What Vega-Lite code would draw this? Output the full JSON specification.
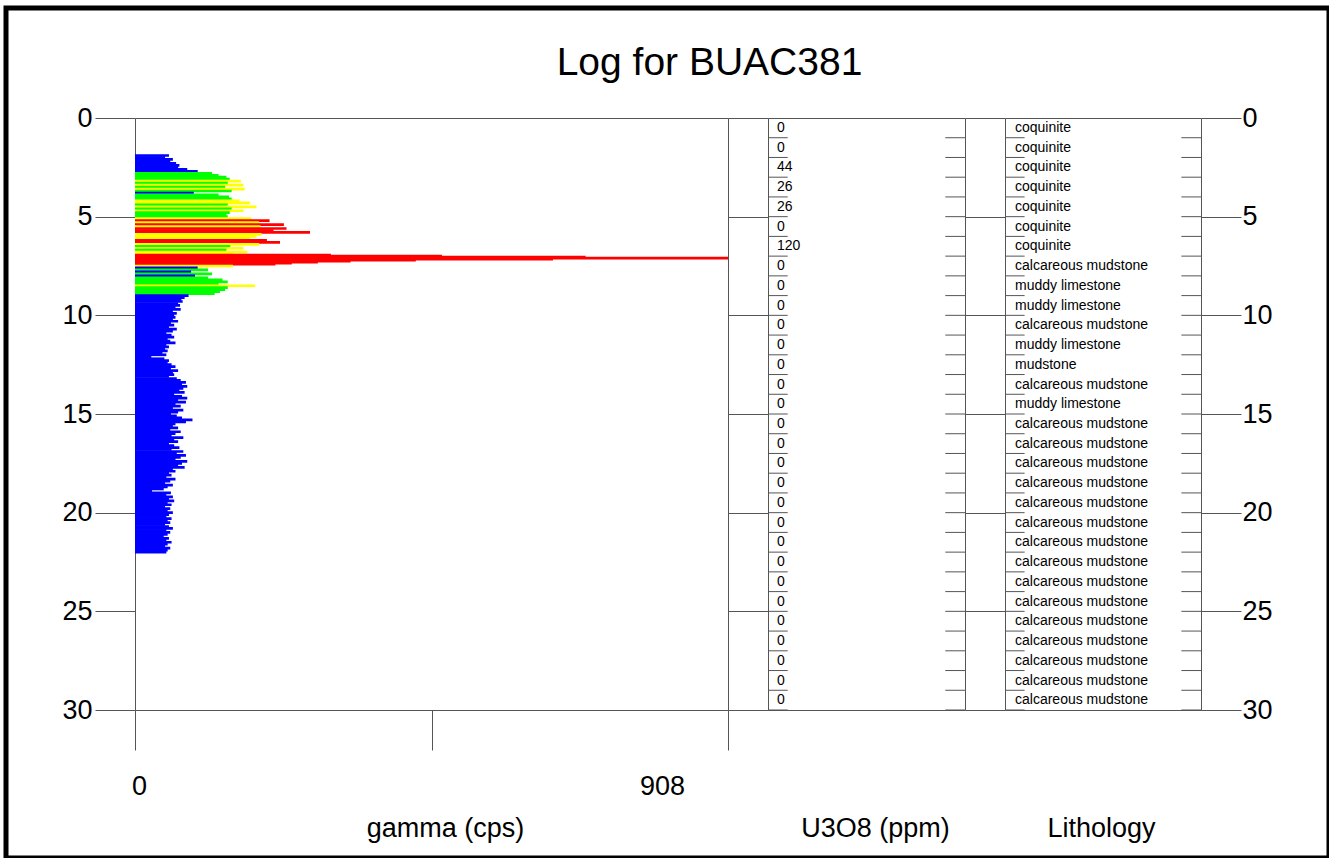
{
  "$schema": "https://vega.github.io/schema/vega-lite/v6.json",
  "width": 1323,
  "height": 850,
  "autosize": "none",
  "padding": {"left": 6, "top": 8, "right": 0, "bottom": 0},
  "background": "white",
  "view": {"stroke": "black", "strokeWidth": 5},
  "title": {"text": "Log for BUAC381", "fontSize": 39, "fontWeight": "normal", "font": "Liberation Sans", "color": "black", "anchor": "middle", "frame": "group", "offset": -106, "baseline": "alphabetic", "dx": 42},
  "config": {
    "font": "Liberation Sans",
    "axis": {"grid": false, "domainColor": "#555555", "tickColor": "#555555", "domainWidth": 1, "tickWidth": 1, "labelColor": "black", "titleColor": "black", "labelFont": "Liberation Sans", "titleFont": "Liberation Sans", "labelFlush": false, "labelOverlap": false, "labelBound": false, "titleFontWeight": "normal"}
  },
  "datasets": {
    "gamma": [
      {"d":1.9,"g":52},{"d":2.0,"g":46},{"d":2.1,"g":58},{"d":2.2,"g":54},{"d":2.3,"g":63},{"d":2.4,"g":68},{"d":2.5,"g":66},{"d":2.6,"g":80},{"d":2.7,"g":96},
      {"d":2.8,"g":118},{"d":2.9,"g":128},{"d":3.0,"g":140},{"d":3.1,"g":145},{"d":3.2,"g":162},{"d":3.3,"g":142},{"d":3.4,"g":166},{"d":3.5,"g":138},{"d":3.6,"g":168},{"d":3.7,"g":148},
      {"d":3.8,"g":90},{"d":3.9,"g":128},{"d":4.0,"g":144},{"d":4.1,"g":148},{"d":4.2,"g":160},{"d":4.3,"g":176},{"d":4.4,"g":142},{"d":4.5,"g":186},{"d":4.6,"g":148},{"d":4.7,"g":166},{"d":4.8,"g":145},{"d":4.9,"g":140},{"d":5.0,"g":142},
      {"d":5.1,"g":178},{"d":5.2,"g":206},{"d":5.3,"g":190},{"d":5.4,"g":228},{"d":5.5,"g":192},{"d":5.6,"g":232},{"d":5.7,"g":212},{"d":5.8,"g":268},{"d":5.9,"g":194},{"d":6.0,"g":186},{"d":6.1,"g":176},{"d":6.2,"g":202},{"d":6.3,"g":222},{"d":6.4,"g":190},
      {"d":6.5,"g":146},{"d":6.6,"g":166},{"d":6.7,"g":140},{"d":6.8,"g":172},{"d":6.9,"g":150},
      {"d":6.95,"g":300},{"d":7.0,"g":470},{"d":7.05,"g":690},{"d":7.1,"g":908},{"d":7.15,"g":640},{"d":7.2,"g":430},{"d":7.25,"g":330},{"d":7.3,"g":280},{"d":7.35,"g":240},{"d":7.4,"g":215},
      {"d":7.5,"g":150},{"d":7.6,"g":96},{"d":7.7,"g":112},{"d":7.8,"g":86},{"d":7.9,"g":118},{"d":8.0,"g":92},{"d":8.1,"g":112},
      {"d":8.2,"g":134},{"d":8.3,"g":142},{"d":8.4,"g":128},{"d":8.5,"g":184},{"d":8.6,"g":142},{"d":8.7,"g":138},{"d":8.8,"g":130},{"d":8.9,"g":122},
      {"d":9.0,"g":82},{"d":9.1,"g":76},{"d":9.2,"g":71},{"d":9.3,"g":73},{"d":9.4,"g":66},{"d":9.5,"g":69},{"d":9.6,"g":62},{"d":9.7,"g":70},{"d":9.8,"g":58},{"d":9.9,"g":64},
      {"d":10.0,"g":60},{"d":10.1,"g":62},{"d":10.2,"g":58},{"d":10.3,"g":66},{"d":10.4,"g":55},{"d":10.5,"g":60},{"d":10.6,"g":52},{"d":10.7,"g":64},{"d":10.8,"g":58},{"d":10.9,"g":48},
      {"d":11.0,"g":56},{"d":11.1,"g":60},{"d":11.2,"g":50},{"d":11.3,"g":54},{"d":11.4,"g":62},{"d":11.5,"g":48},{"d":11.6,"g":52},{"d":11.7,"g":46},{"d":11.8,"g":50},{"d":11.9,"g":42},
      {"d":12.0,"g":48},{"d":12.1,"g":25},{"d":12.2,"g":45},{"d":12.3,"g":52},{"d":12.4,"g":50},{"d":12.5,"g":56},{"d":12.6,"g":62},{"d":12.7,"g":55},{"d":12.8,"g":66},{"d":12.9,"g":58},
      {"d":13.0,"g":60},{"d":13.1,"g":52},{"d":13.2,"g":64},{"d":13.3,"g":70},{"d":13.4,"g":78},{"d":13.5,"g":72},{"d":13.6,"g":80},{"d":13.7,"g":74},{"d":13.8,"g":68},{"d":13.9,"g":76},
      {"d":14.0,"g":60},{"d":14.1,"g":72},{"d":14.2,"g":80},{"d":14.3,"g":66},{"d":14.4,"g":78},{"d":14.5,"g":62},{"d":14.6,"g":70},{"d":14.7,"g":58},{"d":14.8,"g":74},{"d":14.9,"g":66},
      {"d":15.0,"g":55},{"d":15.1,"g":64},{"d":15.2,"g":72},{"d":15.3,"g":88},{"d":15.4,"g":78},{"d":15.5,"g":62},{"d":15.6,"g":58},{"d":15.7,"g":66},{"d":15.8,"g":54},{"d":15.9,"g":70},
      {"d":16.0,"g":62},{"d":16.1,"g":56},{"d":16.2,"g":74},{"d":16.3,"g":60},{"d":16.4,"g":66},{"d":16.5,"g":52},{"d":16.6,"g":60},{"d":16.7,"g":68},{"d":16.8,"g":56},{"d":16.9,"g":74},
      {"d":17.0,"g":64},{"d":17.1,"g":78},{"d":17.2,"g":70},{"d":17.3,"g":62},{"d":17.4,"g":80},{"d":17.5,"g":72},{"d":17.6,"g":66},{"d":17.7,"g":76},{"d":17.8,"g":58},{"d":17.9,"g":62},
      {"d":18.0,"g":52},{"d":18.1,"g":56},{"d":18.2,"g":48},{"d":18.3,"g":62},{"d":18.4,"g":54},{"d":18.5,"g":46},{"d":18.6,"g":58},{"d":18.7,"g":50},{"d":18.8,"g":44},{"d":18.9,"g":26},
      {"d":19.0,"g":55},{"d":19.1,"g":48},{"d":19.2,"g":58},{"d":19.3,"g":52},{"d":19.4,"g":60},{"d":19.5,"g":50},{"d":19.6,"g":56},{"d":19.7,"g":46},{"d":19.8,"g":54},{"d":19.9,"g":50},
      {"d":20.0,"g":58},{"d":20.1,"g":52},{"d":20.2,"g":48},{"d":20.3,"g":56},{"d":20.4,"g":50},{"d":20.5,"g":54},{"d":20.6,"g":46},{"d":20.7,"g":52},{"d":20.8,"g":58},{"d":20.9,"g":48},
      {"d":21.0,"g":54},{"d":21.1,"g":50},{"d":21.2,"g":44},{"d":21.3,"g":52},{"d":21.4,"g":48},{"d":21.5,"g":56},{"d":21.6,"g":50},{"d":21.7,"g":46},{"d":21.8,"g":54},{"d":21.9,"g":50},{"d":22.0,"g":48}
    ],
    "samples": [
      {"from":0,"to":1,"u3o8":0,"lith":"coquinite"},
      {"from":1,"to":2,"u3o8":0,"lith":"coquinite"},
      {"from":2,"to":3,"u3o8":44,"lith":"coquinite"},
      {"from":3,"to":4,"u3o8":26,"lith":"coquinite"},
      {"from":4,"to":5,"u3o8":26,"lith":"coquinite"},
      {"from":5,"to":6,"u3o8":0,"lith":"coquinite"},
      {"from":6,"to":7,"u3o8":120,"lith":"coquinite"},
      {"from":7,"to":8,"u3o8":0,"lith":"calcareous mudstone"},
      {"from":8,"to":9,"u3o8":0,"lith":"muddy limestone"},
      {"from":9,"to":10,"u3o8":0,"lith":"muddy limestone"},
      {"from":10,"to":11,"u3o8":0,"lith":"calcareous mudstone"},
      {"from":11,"to":12,"u3o8":0,"lith":"muddy limestone"},
      {"from":12,"to":13,"u3o8":0,"lith":"mudstone"},
      {"from":13,"to":14,"u3o8":0,"lith":"calcareous mudstone"},
      {"from":14,"to":15,"u3o8":0,"lith":"muddy limestone"},
      {"from":15,"to":16,"u3o8":0,"lith":"calcareous mudstone"},
      {"from":16,"to":17,"u3o8":0,"lith":"calcareous mudstone"},
      {"from":17,"to":18,"u3o8":0,"lith":"calcareous mudstone"},
      {"from":18,"to":19,"u3o8":0,"lith":"calcareous mudstone"},
      {"from":19,"to":20,"u3o8":0,"lith":"calcareous mudstone"},
      {"from":20,"to":21,"u3o8":0,"lith":"calcareous mudstone"},
      {"from":21,"to":22,"u3o8":0,"lith":"calcareous mudstone"},
      {"from":22,"to":23,"u3o8":0,"lith":"calcareous mudstone"},
      {"from":23,"to":24,"u3o8":0,"lith":"calcareous mudstone"},
      {"from":24,"to":25,"u3o8":0,"lith":"calcareous mudstone"},
      {"from":25,"to":26,"u3o8":0,"lith":"calcareous mudstone"},
      {"from":26,"to":27,"u3o8":0,"lith":"calcareous mudstone"},
      {"from":27,"to":28,"u3o8":0,"lith":"calcareous mudstone"},
      {"from":28,"to":29,"u3o8":0,"lith":"calcareous mudstone"},
      {"from":29,"to":30,"u3o8":0,"lith":"calcareous mudstone"}
    ]
  },
  "layer": [
    {
      "data": {"name": "gamma"},
      "mark": {"type": "rule", "strokeWidth": 2.7},
      "encoding": {
        "y": {"field": "d", "type": "quantitative",
          "scale": {"domain": [0, 30], "range": [110, 702], "nice": false, "zero": false},
          "axis": {"orient": "left", "offset": -129, "values": [0,5,10,15,20,25,30], "tickSize": 40, "labelFontSize": 27, "labelPadding": 3, "title": null, "domain": true}},
        "x": {"field": "g", "type": "quantitative",
          "scale": {"domain": [0, 908], "range": [129, 722], "nice": false, "zero": false},
          "axis": {"orient": "bottom", "offset": -148, "values": [0, 454, 908], "tickSize": 40, "labelExpr": "datum.value == 454 ? '' : datum.label", "labelFontSize": 27, "labelPadding": 23, "labelOffset": {"condition": {"test": "datum.value == 908", "value": -66}, "value": 4}, "title": "gamma (cps)", "titleFontSize": 27, "titleX": 439, "titleY": 126, "titleBaseline": "alphabetic", "titleAlign": "center", "domain": true}},
        "x2": {"datum": 0},
        "color": {"field": "g", "type": "quantitative",
          "scale": {"type": "threshold", "domain": [100, 150, 200], "range": ["#0000ff", "#00ff00", "#ffff00", "#ff0000"]},
          "legend": null}
      }
    },
    {
      "data": {"name": "samples"},
      "mark": {"type": "text", "align": "left", "baseline": "middle", "dx": 9, "dy": 10, "fontSize": 14, "font": "Liberation Sans", "color": "black"},
      "encoding": {
        "y": {"field": "from", "type": "quantitative",
          "axis": {"orient": "left", "offset": -762, "values": [0,5,10,15,20,25,30], "tickSize": 40, "labels": false, "title": null, "domain": true}},
        "x": {"datum": 0, "type": "quantitative",
          "scale": {"domain": [0, 1], "range": [762, 959], "nice": false, "zero": false},
          "axis": {"orient": "bottom", "offset": -148, "ticks": false, "labels": false, "title": "U3O8 (ppm)", "titleFontSize": 27, "titleX": 869, "titleY": 126, "titleBaseline": "alphabetic", "titleAlign": "center", "domain": true}},
        "text": {"field": "u3o8", "type": "quantitative"}
      }
    },
    {
      "data": {"name": "samples"},
      "mark": {"type": "rule", "color": "#555555", "strokeWidth": 1},
      "encoding": {
        "y": {"field": "to", "type": "quantitative",
          "axis": {"orient": "left", "offset": -722, "values": [0], "tickSize": 593, "labels": false, "title": null, "domain": true}},
        "x": {"datum": 0, "type": "quantitative",
          "scale": {"domain": [0, 1], "range": [762, 959], "nice": false, "zero": false},
          "axis": {"orient": "top", "offset": -110, "ticks": false, "labels": false, "title": null, "domain": true}},
        "x2": {"datum": 0.1}
      }
    },
    {
      "data": {"name": "samples"},
      "mark": {"type": "rule", "color": "#555555", "strokeWidth": 1},
      "encoding": {
        "y": {"field": "to", "type": "quantitative",
          "axis": {"orient": "left", "offset": -959, "ticks": false, "labels": false, "title": null, "domain": true}},
        "x": {"datum": 0.9, "type": "quantitative",
          "scale": {"domain": [0, 1], "range": [762, 959], "nice": false, "zero": false},
          "axis": null},
        "x2": {"datum": 1}
      }
    },
    {
      "data": {"name": "samples"},
      "mark": {"type": "text", "align": "left", "baseline": "middle", "dx": 10, "dy": 10, "fontSize": 14, "font": "Liberation Sans", "color": "black"},
      "encoding": {
        "y": {"field": "from", "type": "quantitative",
          "axis": {"orient": "left", "offset": -999, "values": [0,5,10,15,20,25,30], "tickSize": 40, "labels": false, "title": null, "domain": true}},
        "x": {"datum": 0, "type": "quantitative",
          "scale": {"domain": [0, 1], "range": [999, 1195], "nice": false, "zero": false},
          "axis": {"orient": "bottom", "offset": -148, "ticks": false, "labels": false, "title": "Lithology", "titleFontSize": 27, "titleX": 1095, "titleY": 126, "titleBaseline": "alphabetic", "titleAlign": "center", "domain": true}},
        "text": {"field": "lith", "type": "nominal"}
      }
    },
    {
      "data": {"name": "samples"},
      "mark": {"type": "rule", "color": "#555555", "strokeWidth": 1},
      "encoding": {
        "y": {"field": "to", "type": "quantitative",
          "axis": {"orient": "right", "offset": -128, "values": [0,5,10,15,20,25,30], "tickSize": 40, "labelFontSize": 27, "labelPadding": 1, "title": null, "domain": true}},
        "x": {"datum": 0, "type": "quantitative",
          "scale": {"domain": [0, 1], "range": [999, 1195], "nice": false, "zero": false},
          "axis": {"orient": "top", "offset": -110, "ticks": false, "labels": false, "title": null, "domain": true}},
        "x2": {"datum": 0.1}
      }
    },
    {
      "data": {"name": "samples"},
      "mark": {"type": "rule", "color": "#555555", "strokeWidth": 1},
      "encoding": {
        "y": {"field": "to", "type": "quantitative", "axis": null},
        "x": {"datum": 0.9, "type": "quantitative",
          "scale": {"domain": [0, 1], "range": [999, 1195], "nice": false, "zero": false},
          "axis": null},
        "x2": {"datum": 1}
      }
    }
  ],
  "resolve": {"scale": {"x": "independent"}, "axis": {"x": "independent", "y": "independent"}}
}
